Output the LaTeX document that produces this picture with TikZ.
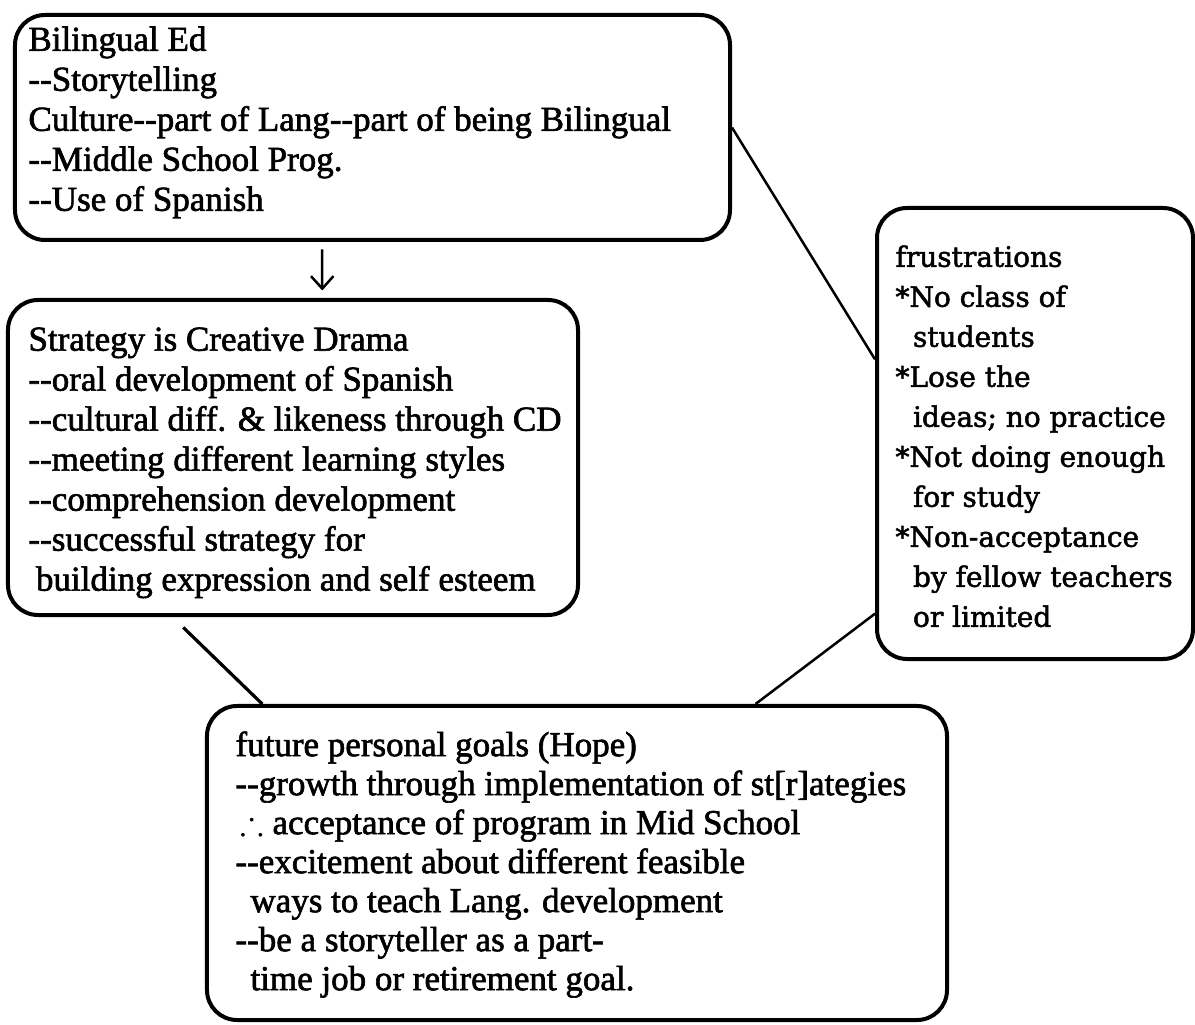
\documentclass[tikz,border=0pt]{standalone}
\usepackage{amssymb}
\usepackage{fontspec}
\setmainfont{Liberation Serif}[Ligatures=TeXOff,FakeBold=1.8]
\newfontfamily\frfont{DejaVu Serif}[Ligatures=TeXOff,FakeBold=1.8]
\usetikzlibrary{arrows.meta,positioning,calc}

\begin{document}
\begin{tikzpicture}[x=0.4pt,y=-0.4pt,
    card/.style={draw,line width=1.6pt,rounded corners=12pt,inner sep=0pt},
    txt/.style={inner sep=0pt,align=left,font=\fontsize{14}{16}\selectfont},
    frtxt/.style={inner sep=0pt,align=left,font=\frfont\fontsize{11.2}{16}\selectfont},
    link/.style={line width=1pt}]
  \useasboundingbox (0,0) rectangle (1195,1025);
  % the four boxes
  \node[card,minimum width=286pt,minimum height=90pt] (bil) at (372.5,127.5) {};
  \node[card,minimum width=228pt,minimum height=126pt] (strat) at (293,457.5) {};
  \node[card,minimum width=126.4pt,minimum height=180.4pt] (frus) at (1035,433.5) {};
  \node[card,minimum width=296pt,minimum height=125.6pt] (hope) at (577,863) {};
  % their texts
  \node[txt,below right=5.2pt and 6pt of bil.north west] (bilt) {Bilingual Ed\\
    --Storytelling\\
    Culture--part of Lang--part of being Bilingual\\
    --Middle School Prog.\\
    --Use of Spanish};
  \node[txt,below right=11.6pt and 8.8pt of strat.north west] (stratt) {Strategy is Creative Drama\\
    --oral development of Spanish\\
    --cultural diff. \& likeness through CD\\
    --meeting different learning styles\\
    --comprehension development\\
    --successful strategy for\\
    \hspace*{3pt}building expression and self esteem};
  \node[frtxt,below right=15.6pt and 8pt of frus.north west] (frust) {frustrations\\
    *No class of\\
    \hspace*{7pt}students\\
    *Lose the\\
    \hspace*{7pt}ideas; no practice\\
    *Not doing enough\\
    \hspace*{7pt}for study\\
    *Non-acceptance\\
    \hspace*{7pt}by fellow teachers\\
    \hspace*{7pt}or limited};
  \node[txt,font=\fontsize{14}{15.6}\selectfont,below right=10.8pt and 12pt of hope.north west] (hopet) {future personal goals (Hope)\\
    --growth through implementation of st[r]ategies\\
    \hspace*{2pt}$\therefore$ acceptance of program in Mid School\\
    --excitement about different feasible\\
    \hspace*{6pt}ways to teach Lang. development\\
    --be a storyteller as a part-\\
    \hspace*{6pt}time job or retirement goal.};
  % connectors
  \draw[link,-{Straight Barb[length=5pt,width=9pt]},shorten <=3pt,shorten >=3pt]
    ($(bil.south west)!.43!(bil.south east)$) -- ($(strat.north west)!.551!(strat.north east)$);
  \draw[link] ($(bil.north east)!.5!(bil.south east)$) -- ($(frus.north west)!.337!(frus.south west)$);
  \draw[link,line width=1.3pt,shorten <=6pt]
    ($(strat.south west)!.29!(strat.south east)$) -- ($(hope.north west)!.077!(hope.north east)$);
  \draw[link] ($(frus.north west)!.896!(frus.south west)$) -- ($(hope.north west)!.74!(hope.north east)$);
\end{tikzpicture}
\end{document}
